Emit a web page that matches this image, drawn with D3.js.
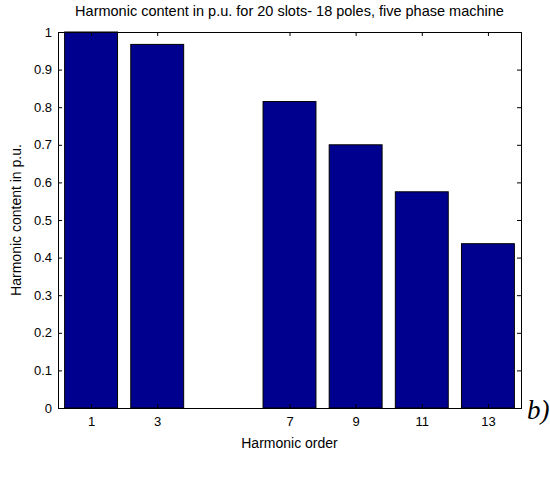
<!DOCTYPE html>
<html><head><meta charset="utf-8">
<script src="https://cdn.jsdelivr.net/npm/d3@7"></script>
<style>body{margin:0;background:#fff}svg{display:block}text{font-family:"Liberation Sans",Arial,sans-serif}</style>
</head><body>
<svg id="c" width="550" height="480"></svg>
<script>
const harmonics = [1, 3, 5, 7, 9, 11, 13];
const values = [1.0, 0.967, 0, 0.815, 0.700, 0.575, 0.437];
const xTickValues = [1, 3, 7, 9, 11, 13];
const yTickValues = [0, 0.1, 0.2, 0.3, 0.4, 0.5, 0.6, 0.7, 0.8, 0.9, 1];
const titleText = "Harmonic content in p.u. for 20 slots- 18 poles, five phase machine";
const xLabelText = "Harmonic order";
const yLabelText = "Harmonic content in p.u.";

const svg = d3.select("#c");
const L = 58, R = 521, T = 32, B = 408;
const x = d3.scaleLinear().domain([0, 14]).range([L, R]);
const y = d3.scaleLinear().domain([0, 1]).range([B, T]);
const bw = x(1.6) - x(0);

svg.append("rect").attr("x", L).attr("y", T).attr("width", R - L).attr("height", B - T).attr("fill", "#fff");

svg.selectAll("rect.bar").data(harmonics.map((h, i) => ({h, v: values[i]})).filter(d => d.v > 0))
  .enter().append("rect").attr("class", "bar")
  .attr("x", d => x(d.h) - bw / 2).attr("width", bw)
  .attr("y", d => y(d.v)).attr("height", d => y(0) - y(d.v))
  .attr("fill", "#00008f").attr("stroke", "#000").attr("stroke-width", 1);

const fs = "13px";
const gB = svg.append("g").attr("transform", `translate(0,${B})`)
  .call(d3.axisBottom(x).tickValues(xTickValues).tickSize(-4).tickPadding(9).tickFormat(d3.format("d")));
const gT = svg.append("g").attr("transform", `translate(0,${T})`)
  .call(d3.axisTop(x).tickValues(xTickValues).tickSize(-4).tickFormat(""));
const gL = svg.append("g").attr("transform", `translate(${L},0)`)
  .call(d3.axisLeft(y).tickValues(yTickValues).tickSize(-4).tickPadding(6).tickFormat(d => d === 0 ? "0" : d === 1 ? "1" : d3.format(".1f")(d)));
const gR = svg.append("g").attr("transform", `translate(${R},0)`)
  .call(d3.axisRight(y).tickValues(yTickValues).tickSize(-4).tickFormat(""));
[gB, gT, gL, gR].forEach(g => {
  g.select(".domain").attr("stroke", "#000").attr("stroke-width", 1);
  g.selectAll(".tick line").attr("stroke", "#000");
  g.selectAll("text").attr("font-size", fs).attr("fill", "#000").style("font-family", '"Liberation Sans",Arial,sans-serif');
});

svg.append("text").attr("x", (L + R) / 2).attr("y", 16).attr("text-anchor", "middle").attr("font-size", "14.5px").text(titleText);
svg.append("text").attr("x", (L + R) / 2).attr("y", 448).attr("text-anchor", "middle").attr("font-size", "14px").text(xLabelText);
svg.append("text").attr("transform", `translate(21,${(T + B) / 2}) rotate(-90)`).attr("text-anchor", "middle").attr("font-size", "14px").text(yLabelText);
svg.append("text").attr("x", 527).attr("y", 419).attr("font-size", "27px").attr("font-style", "italic")
  .style("font-family", '"Liberation Serif","Times New Roman",serif').text("b)");
</script>
</body></html>
